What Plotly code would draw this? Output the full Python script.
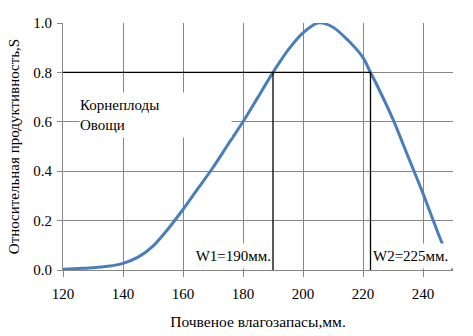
import plotly.graph_objects as go

# Relative productivity vs. soil moisture reserves
moisture_mm = [120, 125, 130, 135, 140, 145, 150, 155, 160, 165, 170, 175, 180, 185,
               190, 195, 200, 205, 210, 215, 220, 222.5, 225, 230, 235, 240, 245, 250]
productivity = [0.003, 0.006, 0.009, 0.015, 0.027, 0.052, 0.097, 0.166, 0.245, 0.33,
                0.415, 0.508, 0.6, 0.70, 0.8, 0.89, 0.96, 1.0, 0.983, 0.93, 0.86, 0.8,
                0.74, 0.61, 0.46, 0.31, 0.15, 0.0]

threshold = 0.8
w1 = 190
w2 = 222.5
w1_label = "W1=190мм."
w2_label = "W2=225мм."
crop_labels = ["Корнеплоды", "Овощи"]

x_ticks = [120, 140, 160, 180, 200, 220, 240]
y_ticks = [0.0, 0.2, 0.4, 0.6, 0.8, 1.0]

FONT = "Times New Roman"
GRID = "#878787"

fig = go.Figure()

fig.add_trace(go.Scatter(
    x=moisture_mm, y=productivity, mode="lines",
    line=dict(color="#4a7ebb", width=3, shape="spline", smoothing=0.8),
    hoverinfo="skip", showlegend=False,
))

# threshold level and the two critical moisture values
fig.add_trace(go.Scatter(
    x=[moisture_mm[0], w2], y=[threshold, threshold], mode="lines",
    line=dict(color="black", width=1.3), hoverinfo="skip", showlegend=False,
))
for wx in (w1, w2):
    fig.add_trace(go.Scatter(
        x=[wx, wx], y=[0, threshold], mode="lines",
        line=dict(color="black", width=1.3), hoverinfo="skip", showlegend=False,
    ))

fig.add_annotation(
    x=125.2, y=0.72, xref="x", yref="y", xanchor="left", yanchor="top",
    text="<br>".join(crop_labels), showarrow=False, align="left", valign="middle",
    width=151, height=44, bgcolor="white", borderpad=0,
    font=dict(family=FONT, size=15, color="black"),
)
fig.add_annotation(
    x=w1, y=0, xref="x", yref="y", xanchor="right", yanchor="bottom",
    xshift=-1, yshift=1, text=w1_label, showarrow=False, align="right",
    width=80, height=24, bgcolor="white", borderpad=0,
    font=dict(family=FONT, size=15, color="black"),
)
fig.add_annotation(
    x=w2, y=0, xref="x", yref="y", xanchor="left", yanchor="bottom",
    xshift=1, yshift=1, text=w2_label, showarrow=False, align="left",
    width=80, height=24, bgcolor="white", borderpad=0,
    font=dict(family=FONT, size=15, color="black"),
)

fig.update_xaxes(
    range=[120, 250], tickvals=x_ticks, ticktext=[str(v) for v in x_ticks],
    showgrid=True, gridcolor=GRID, gridwidth=1,
    showline=True, linecolor=GRID, linewidth=1,
    ticks="outside", ticklen=6, tickcolor=GRID, zeroline=False,
    ticklabelstandoff=4, automargin=False,
    tickfont=dict(family=FONT, size=15, color="black"),
    title=dict(text="Почвеное влагозапасы,мм.", standoff=15,
               font=dict(family=FONT, size=15.5, color="black")),
)
fig.update_yaxes(
    range=[0, 1.0], tickvals=y_ticks, ticktext=[f"{v:.1f}" for v in y_ticks],
    showgrid=True, gridcolor=GRID, gridwidth=1,
    showline=True, linecolor=GRID, linewidth=1,
    ticks="outside", ticklen=5, tickcolor=GRID, zeroline=False,
    ticklabelstandoff=2, automargin=False,
    tickfont=dict(family=FONT, size=15, color="black"),
    title=dict(text="Относительная продуктивность,S", standoff=10,
               font=dict(family=FONT, size=15, color="black")),
)

fig.update_layout(
    width=473, height=336,
    margin=dict(l=63, r=20, t=23, b=66),
    paper_bgcolor="white", plot_bgcolor="white",
    font=dict(family=FONT, size=15, color="black"),
    showlegend=False,
)

fig.write_html("out.html", config={"displayModeBar": False})
